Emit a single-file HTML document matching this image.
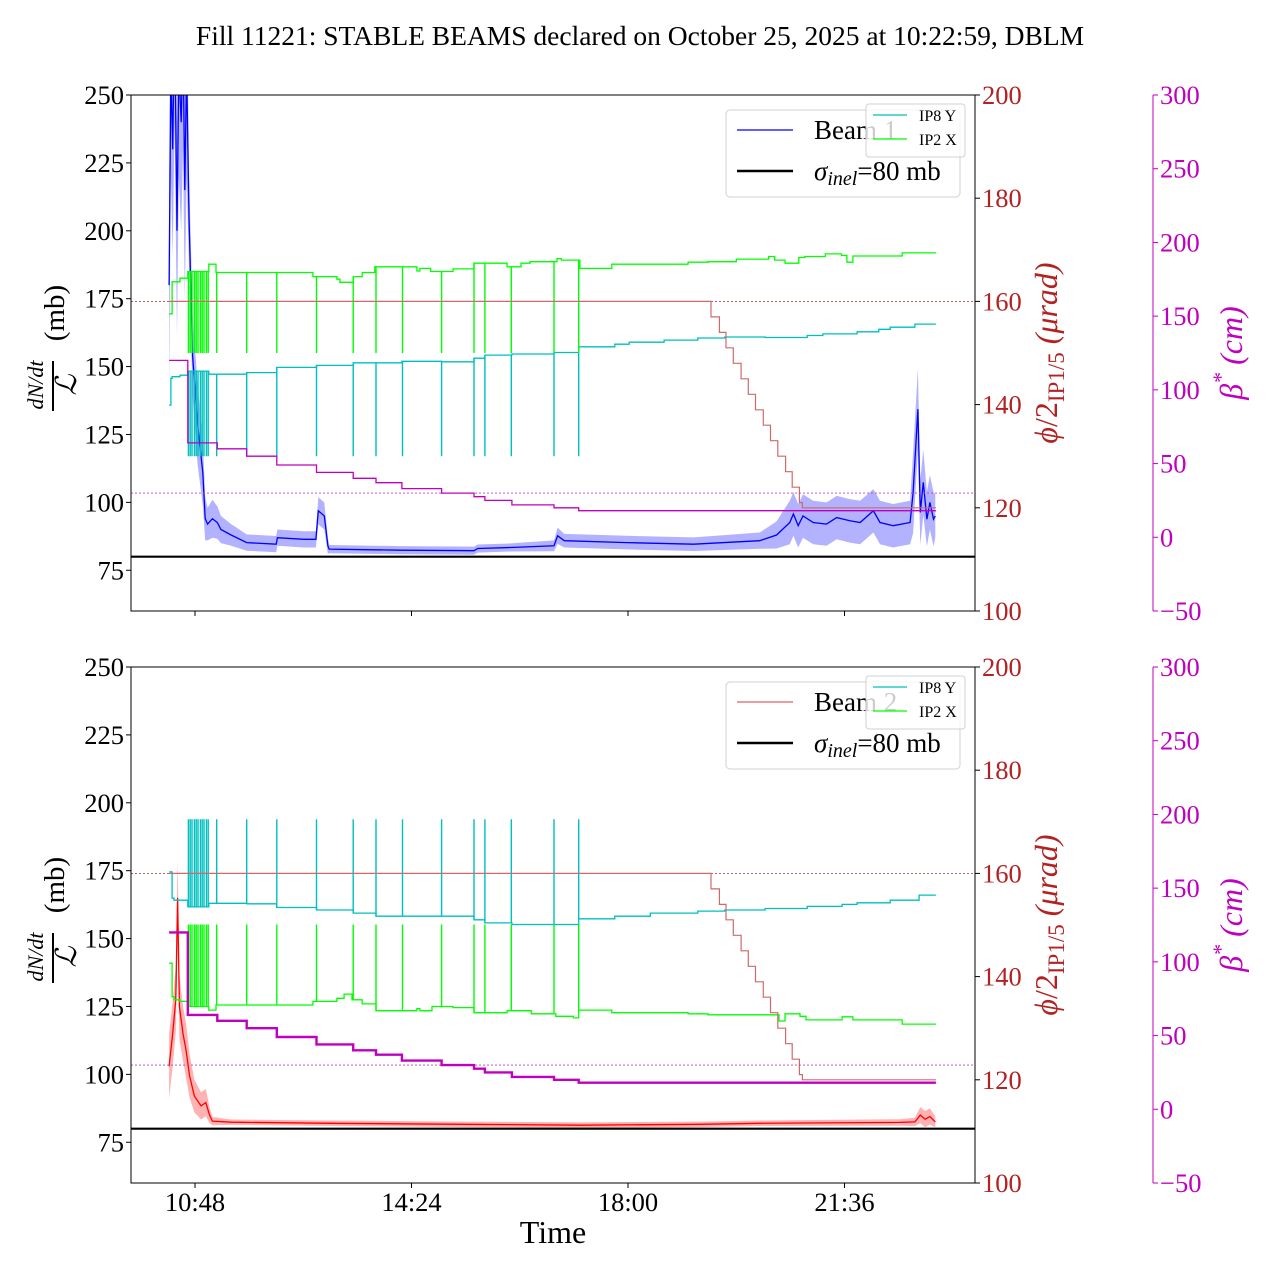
<!DOCTYPE html>
<html><head><meta charset="utf-8"><title>Fill 11221 DBLM</title>
<style>
html,body{margin:0;padding:0;background:#fff;}
svg{display:block;font-family:"Liberation Serif",serif;}
</style></head>
<body>
<svg id="chart" width="1280" height="1280" viewBox="0 0 1280 1280" xmlns="http://www.w3.org/2000/svg">
<defs>
<clipPath id="clipTop"><rect x="131" y="95" width="844" height="516"/></clipPath>
<clipPath id="clipBot"><rect x="131" y="667" width="844" height="516"/></clipPath>
</defs>
<rect width="1280" height="1280" fill="#fff"/>
<text x="640" y="45" text-anchor="middle" font-size="27.5">Fill 11221: STABLE BEAMS declared on October 25, 2025 at 10:22:59, DBLM</text>
<g id="layer"></g>
<text x="553" y="1243" text-anchor="middle" font-size="32">Time</text>
</svg>
<script>
// ---------- data ----------
const xTickTimes = [10.8, 14.4, 18.0, 21.6];
const xTickLabels = ["10:48", "14:24", "18:00", "21:36"];
const leftTicks = [75, 100, 125, 150, 175, 200, 225, 250];
const redTicks = [100, 120, 140, 160, 180, 200];
const magTicks = [-50, 0, 50, 100, 150, 200, 250, 300];
const tEnd = 23.12;
const sigmaInel = 80;
const refAngle = 160;
const refBeta = 30;

const b1T = [10.37,10.40,10.43,10.46,10.50,10.53,10.57,10.60,10.63,10.66,10.70,10.76,10.84,10.93,10.97,11.01,11.09,11.17,11.23,11.40,11.66,12.15,12.17,12.61,12.81,12.85,12.95,13.01,13.03,14.21,15.44,15.50,16.05,16.77,16.83,16.94,17.98,19.09,20.19,20.47,20.69,20.75,20.83,20.91,21.08,21.30,21.47,21.69,21.86,22.08,22.19,22.41,22.69,22.74,22.82,22.86,22.91,22.97,23.02,23.08,23.11];
const b1V = [180,260,230,280,200,260,240,270,215,260,205,154,129.5,111,94,92,94,92.6,90,88,85.2,84.6,87,86.4,86.4,96.9,95,84,82.8,82.4,82.2,83,83.4,84,87.7,85.9,85.2,84.6,85.9,88,92.6,95.7,91.4,95,92.6,92,94.4,93.2,92.6,96.9,92.6,91.4,92.6,103.6,134.3,96.3,107.4,93.8,100,93.8,95];
const b1W = [40,40,40,40,40,40,40,40,40,40,18,15,15,12,8,6,7,6,5,4,3,3,3,3,3,5,5,3,1.5,1.5,1.5,1.5,1.5,2,3,2.5,2.5,2.5,3,5,8,8,8,8,8,8,8,8,8,8,8,8,8,15,15,12,12,10,10,10,8];

const b2T = [10.37,10.43,10.48,10.51,10.54,10.60,10.65,10.71,10.79,10.90,10.98,11.04,11.09,11.40,13.06,15.27,17.22,19.20,20.19,22.52,22.77,22.86,22.94,23.02,23.11];
const b2V = [103,115,127.6,165,125,115,109,99.4,92,88.4,89.6,85.2,82.8,82.4,82,81.6,81.3,81.6,82,82.3,82.5,85,83.5,84.5,82.5];
const b2W = [12,12,12,14,12,10,10,8,6,5,5,3,1.5,1,1,1,1,1,1,1.2,1.5,3,3,3,2];

const gTopT = [10.37,10.42,10.55,10.68,11.03,11.15,12.76,13.16,13.21,13.43,13.58,13.79,14.49,14.54,14.72,15.09,15.44,15.99,16.22,16.37,16.82,16.89,17.20,17.73,19.00,19.33,19.80,20.34,20.44,20.61,20.84,20.94,21.28,21.55,21.64,21.74,22.56];
const gTopV = [157.6,163.8,164.5,165.8,167.2,165.6,164.8,164.3,163.7,164.8,165.6,166.7,165.9,166.4,165.8,166.3,167.4,166.7,167.4,167.7,168.3,168.0,166.4,167.2,167.6,167.7,168.2,168.7,168.0,167.4,168.5,168.7,169.2,168.9,167.6,168.8,169.4];
const cTopT = [10.37,10.40,10.42,10.55,10.68,11.03,11.66,12.16,12.82,13.43,14.24,14.90,15.44,15.62,16.07,16.77,17.18,17.78,18.02,18.60,19.16,19.61,20.28,20.98,21.24,21.81,22.17,22.36,22.77];
const cTopV = [139.9,145.1,145.4,145.7,146.5,145.9,146.2,147.2,147.6,148.1,148.4,148.3,149.0,149.6,149.8,150.1,151.2,151.7,152.1,152.5,152.9,153.1,153.0,153.4,153.7,154.1,154.6,155.0,155.6];
const cBotT = [10.37,10.42,10.45,10.68,11.03,11.66,12.16,12.82,13.43,13.81,14.90,15.44,15.62,16.07,17.18,17.78,18.37,19.16,19.61,20.28,20.98,21.56,21.81,22.36,22.84];
const cBotV = [160.3,155.2,154.8,153.5,154.2,154.1,153.4,152.9,152.3,151.7,151.7,151.0,150.4,150.1,151.2,151.7,152.3,152.7,152.9,153.2,153.6,154.0,154.3,154.8,155.8];
const gBotT = [10.37,10.42,10.45,10.55,10.68,11.03,11.15,12.76,13.16,13.28,13.41,13.58,13.81,14.49,14.54,14.74,15.09,15.44,15.99,16.39,16.80,17.09,17.18,17.73,19.00,19.33,20.51,20.61,20.86,20.96,21.33,21.56,21.74,22.56];
const gBotV = [142.6,136.1,135.5,135.2,134.2,133.5,134.5,135.2,135.8,136.6,135.5,134.7,133.4,133.8,133.4,134.2,134.0,133.0,133.4,132.8,132.3,132.0,133.5,133.0,132.8,132.6,131.4,132.8,132.3,131.6,131.6,132.2,131.6,130.8];
const spikeTimes = [10.69,10.72,10.75,10.79,10.82,10.85,10.89,10.92,10.95,10.99,11.02,11.16,11.66,12.16,12.82,13.43,13.81,14.25,14.90,15.44,15.62,16.06,16.77,17.18];
const spikeLevels = {gTop:150, cTop:130, cBot:170.5, gBot:150.1};

const angT = [10.37,19.38,19.52,19.63,19.75,19.88,20.00,20.12,20.25,20.37,20.49,20.62,20.73,20.85,20.90];
const angV = [160,157,154,151,148,145,142,139,136,133,130,127,124,121,120];
const betaT = [10.37,10.68,11.17,11.66,12.16,12.82,13.43,13.81,14.24,14.90,15.44,15.62,16.07,16.77,17.18];
const betaV = [120,64,60,55,49,44,40,37,33,30,27.5,25,22,20,18];

// ---------- helpers ----------
const NS = "http://www.w3.org/2000/svg";
const layer = document.getElementById('layer');
function mk(tag, attrs, parent) {
  const e = document.createElementNS(NS, tag);
  for (const k in attrs) e.setAttribute(k, attrs[k]);
  (parent || layer).appendChild(e);
  return e;
}
const X = t => 195 + (t - 10.8) * 60.14;
const X0 = 131, X1 = 975;
function stepPath(ts, vs, yf) {
  let d = "M" + X(ts[0]).toFixed(1) + "," + yf(vs[0]).toFixed(1);
  for (let i = 1; i < ts.length; i++) d += "H" + X(ts[i]).toFixed(1) + "V" + yf(vs[i]).toFixed(1);
  return d + "H" + X(tEnd).toFixed(1);
}
function stepAt(ts, vs, t) { let v = vs[0]; for (let i = 0; i < ts.length; i++) if (ts[i] <= t) v = vs[i]; return v; }
function linePath(ts, vs, yf) { return ts.map((t, i) => (i ? "L" : "M") + X(t).toFixed(1) + "," + yf(vs[i]).toFixed(1)).join(""); }
function bandPath(ts, vs, ws, yf) {
  let d = ts.map((t, i) => (i ? "L" : "M") + X(t).toFixed(1) + "," + yf(vs[i] + ws[i]).toFixed(1)).join("");
  for (let i = ts.length - 1; i >= 0; i--) d += "L" + X(ts[i]).toFixed(1) + "," + yf(vs[i] - ws[i]).toFixed(1);
  return d + "Z";
}

function panel(top, key) {
  const bot = top + 516;
  const L = v => top + (250 - v) / 190 * 516;
  const R = v => top + (200 - v) / 100 * 516;
  const M = v => top + (300 - v) / 350 * 516;
  const clip = key === 'top' ? 'url(#clipTop)' : 'url(#clipBot)';
  const g = mk('g', {});
  
  
  const pg = mk('g', {'clip-path': clip}, g);
  
  

  const isTop = key === 'top';
  const bt = isTop ? b1T : b2T, bv = isTop ? b1V : b2V, bw = isTop ? b1W : b2W;
  const col = isTop ? '#0000ff' : '#ff0000';
  const band = mk('path', {d: bandPath(bt, bv, bw, L), fill: isTop ? 'rgba(0,0,255,0.3)' : 'rgba(255,0,0,0.3)', stroke: 'none'}, pg);
  
  
  const bl = mk('path', {d: linePath(bt, bv, L), fill: 'none', stroke: col, 'stroke-width': 1.3}, pg);
  
  
  const sl = mk('line', {x1: X0, x2: X1, y1: L(sigmaInel), y2: L(sigmaInel), stroke: '#000', 'stroke-width': 2.2}, pg);
  
  

  const cT = isTop ? cTopT : cBotT, cV = isTop ? cTopV : cBotV;
  const gT = isTop ? gTopT : gBotT, gV = isTop ? gTopV : gBotV;
  const cLvl = isTop ? spikeLevels.cTop : spikeLevels.cBot;
  const gLvl = isTop ? spikeLevels.gTop : spikeLevels.gBot;
  let sd = "";
  spikeTimes.forEach(t => { sd += "M" + X(t).toFixed(1) + "," + R(stepAt(cT, cV, t)).toFixed(1) + "V" + R(cLvl).toFixed(1); });
  const cs = mk('path', {d: sd, stroke: '#00bfbf', 'stroke-width': 1.4, fill: 'none'}, pg);
  
  
  const cl = mk('path', {d: stepPath(cT, cV, R), stroke: '#00bfbf', 'stroke-width': 1.3, fill: 'none'}, pg);
  
  
  let gd = "";
  spikeTimes.forEach(t => { gd += "M" + X(t).toFixed(1) + "," + R(stepAt(gT, gV, t)).toFixed(1) + "V" + R(gLvl).toFixed(1); });
  const gs = mk('path', {d: gd, stroke: '#00ff00', 'stroke-width': 1.4, fill: 'none'}, pg);
  
  
  const gl = mk('path', {d: stepPath(gT, gV, R), stroke: '#00ff00', 'stroke-width': 1.3, fill: 'none'}, pg);
  
  
  const ah = mk('line', {x1: X0, x2: X1, y1: R(refAngle), y2: R(refAngle), stroke: '#a03030', 'stroke-width': 0.8, 'stroke-dasharray': '2,2'}, pg);
  
  
  const al = mk('path', {d: stepPath(angT, angV, R), stroke: '#d06a6a', 'stroke-width': 1.2, fill: 'none'}, pg);
  
  

  const bh = mk('line', {x1: X0, x2: X1, y1: M(refBeta), y2: M(refBeta), stroke: '#c040c0', 'stroke-width': 0.8, 'stroke-dasharray': '2,2'}, pg);
  
  
  const bs = mk('path', {d: stepPath(betaT, betaV, M), stroke: '#bf00bf', 'stroke-width': isTop ? 1.3 : 2.4, fill: 'none'}, pg);
  
  

  const fr = mk('rect', {x: X0, y: top, width: X1 - X0, height: 516, fill: 'none', stroke: '#000', 'stroke-width': 1}, g);
  
  

  leftTicks.forEach(v => {
    const tk = mk('line', {x1: X0 - 5, x2: X0, y1: L(v), y2: L(v), stroke: '#000'}, g);
    
    
    const tl = mk('text', {x: X0 - 7, y: L(v) + 9, 'text-anchor': 'end', 'font-size': 26.5}, g);
    
    
    tl.textContent = v;
  });
  redTicks.forEach(v => {
    const tk = mk('line', {x1: X1, x2: X1 + 5, y1: R(v), y2: R(v), stroke: '#000'}, g);
    
    
    const tl = mk('text', {x: X1 + 7, y: R(v) + 9, 'font-size': 26.5, fill: '#b22222'}, g);
    
    
    tl.textContent = v;
  });
  const ms = mk('line', {x1: 1153, x2: 1153, y1: top, y2: bot, stroke: '#bf00bf', 'stroke-width': 1}, g);
  
  
  magTicks.forEach(v => {
    const tk = mk('line', {x1: 1153, x2: 1158, y1: M(v), y2: M(v), stroke: '#bf00bf'}, g);
    
    
    const tl = mk('text', {x: 1160, y: M(v) + 9, 'font-size': 26.5, fill: '#bf00bf'}, g);
    
    
    tl.textContent = v < 0 ? '\u2212' + Math.abs(v) : v;
  });
  xTickTimes.forEach((t, i) => {
    const tk = mk('line', {x1: X(t), x2: X(t), y1: bot, y2: bot + 5, stroke: '#000'}, g);
    
    
    if (!isTop) {
      const tl = mk('text', {x: X(t), y: bot + 28, 'text-anchor': 'middle', 'font-size': 26.5}, g);
      
      
      tl.textContent = xTickLabels[i];
    }
  });

  const cy = top + 258;
  const num = mk('text', {transform: 'translate(43,' + (cy + 32) + ') rotate(-90)', 'text-anchor': 'middle', 'font-size': 22, 'font-style': 'italic'}, g);
  
  
  num.textContent = 'dN/dt';
  const fl = mk('line', {x1: 53, x2: 53, y1: cy + 8, y2: cy + 58, stroke: '#000', 'stroke-width': 2}, g);
  
  
  const den = mk('text', {transform: 'translate(76,' + (cy + 32) + ') rotate(-90)', 'text-anchor': 'middle', 'font-size': 29, 'font-style': 'italic'}, g);
  
  
  den.textContent = '\u2112';
  const mb = mk('text', {transform: 'translate(64,' + (cy - 40) + ') rotate(-90)', 'text-anchor': 'middle', 'font-size': 29}, g);
  
  
  mb.textContent = '(mb)';
  const rl = mk('text', {transform: 'translate(1057,' + cy + ') rotate(-90)', 'text-anchor': 'middle', 'font-size': 32, fill: '#b22222'}, g);
  
  
  rl.innerHTML = '<tspan font-style="italic">\u03d5</tspan>/2<tspan font-size="23" dy="7">IP1/5</tspan><tspan dy="-7" font-style="italic"> (\u03bcrad)</tspan>';
  const ml = mk('text', {transform: 'translate(1242,' + cy + ') rotate(-90)', 'text-anchor': 'middle', 'font-size': 32, fill: '#bf00bf', 'font-style': 'italic'}, g);
  
  
  ml.innerHTML = '\u03b2<tspan font-size="22" dy="-14">*</tspan><tspan dy="14"> (cm)</tspan>';

  const lg = mk('g', {}, g);
  
  
  const lb = mk('rect', {x: 726, y: top + 15, width: 234, height: 87, rx: 4, fill: 'rgba(255,255,255,0.85)', stroke: '#d0d0d0'}, lg);
  
  
  const l1 = mk('line', {x1: 737, x2: 793, y1: top + 35, y2: top + 35, stroke: isTop ? '#0000ff' : '#e06060', 'stroke-width': 1.2}, lg);
  
  
  const t1 = mk('text', {x: 814, y: top + 44, 'font-size': 27}, lg);
  
  
  t1.textContent = isTop ? 'Beam 1' : 'Beam 2';
  const l2 = mk('line', {x1: 737, x2: 793, y1: top + 76, y2: top + 76, stroke: '#000', 'stroke-width': 2.4}, lg);
  
  
  const t2 = mk('text', {x: 814, y: top + 85, 'font-size': 27}, lg);
  
  
  t2.innerHTML = '<tspan font-style="italic">\u03c3</tspan><tspan font-style="italic" font-size="20" dy="5">inel</tspan><tspan dy="-5">=80 mb</tspan>';

  const sg = mk('g', {}, g);
  
  
  const sb = mk('rect', {x: 866, y: top + 9, width: 99, height: 53, rx: 3, fill: 'rgba(255,255,255,0.8)', stroke: '#d0d0d0'}, sg);
  
  
  const s1 = mk('line', {x1: 873, x2: 907, y1: top + 20, y2: top + 20, stroke: '#00bfbf', 'stroke-width': 1.2}, sg);
  
  
  const st1 = mk('text', {x: 919, y: top + 26, 'font-size': 16}, sg);
  
  
  st1.textContent = 'IP8 Y';
  const s2 = mk('line', {x1: 873, x2: 907, y1: top + 44, y2: top + 44, stroke: '#00ff00', 'stroke-width': 1.2}, sg);
  
  
  const st2 = mk('text', {x: 919, y: top + 50, 'font-size': 16}, sg);
  
  
  st2.textContent = 'IP2 X';
}
panel(95, 'top');
panel(667, 'bottom');
</script>
</body></html>
